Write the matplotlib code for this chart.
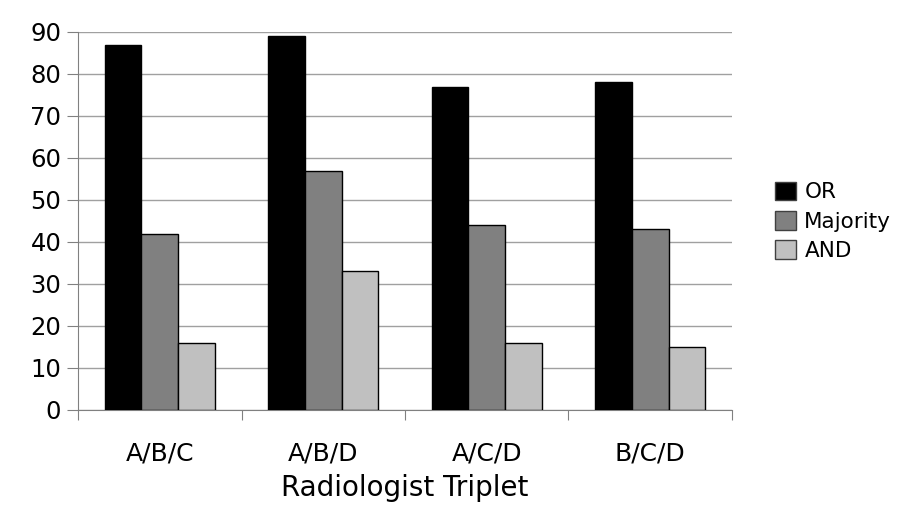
import numpy as np
import matplotlib.pyplot as plt
from matplotlib.patches import Patch

################
# DATA
################
triplets = ["A/B/C", "A/B/D", "A/C/D", "B/C/D"]
or_vals = [87, 89, 77, 78]
majority_vals = [42, 57, 44, 43]
and_vals = [16, 33, 16, 15]

series = ["OR", "Majority", "AND"]
colors = ["#000000", "#808080", "#c0c0c0"]

################
# PLOT
################
fig = plt.figure(figsize=(9.02, 5.15), dpi=100)
ax = fig.add_axes([0.0865, 0.2039, 0.725, 0.734])

x = np.arange(len(triplets))
w = 0.224
for i, (vals, c) in enumerate(zip([or_vals, majority_vals, and_vals], colors)):
    ax.bar(x + (i - 1) * w, vals, w, color=c, edgecolor="black", linewidth=1, zorder=3)

# axes and grid
ax.set_xlim(-0.5, len(triplets) - 0.5)
ax.set_ylim(0, 90)
ax.set_yticks(range(0, 91, 10))
ax.yaxis.grid(True, color="#a0a0a0", linewidth=1, zorder=0)
for s in ["top", "right"]:
    ax.spines[s].set_visible(False)
for s in ["left", "bottom"]:
    ax.spines[s].set_color("#808080")

# category boundaries as major ticks, names as minor ticks
ax.set_xticks(np.arange(-0.5, len(triplets), 1.0))
ax.set_xticklabels([])
ax.set_xticks(x, minor=True)
ax.set_xticklabels(triplets, minor=True, fontsize=18)
ax.tick_params(axis="x", which="major", length=7, color="#808080", direction="out")
ax.tick_params(axis="x", which="minor", length=0, pad=23)
ax.tick_params(axis="y", length=8, color="#808080", labelsize=17.5, pad=4)
ax.set_xlabel("Radiologist Triplet", fontsize=20, labelpad=6)

# legend
handles = [Patch(facecolor=c, edgecolor="#404040", linewidth=1) for c in colors]
fig.legend(handles, series, loc="center left", bbox_to_anchor=(0.85, 0.57),
           frameon=False, fontsize=15.5, handlelength=0.95, handleheight=0.95,
           handletextpad=0.4, labelspacing=0.4, borderaxespad=0)

fig.savefig("out.png", dpi=100)
